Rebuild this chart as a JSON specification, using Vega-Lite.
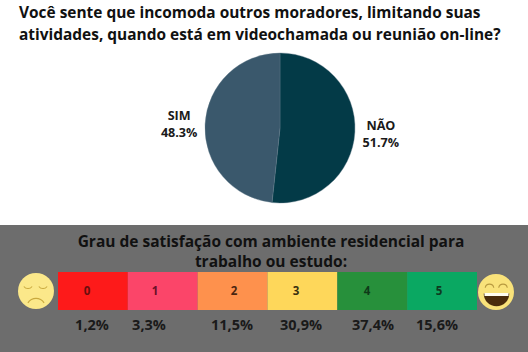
{"$schema":"https://vega.github.io/schema/vega-lite/v6.json","width":528,"height":352,"padding":0,"autosize":{"type":"fit","contains":"padding"},"background":"#ffffff","view":{"stroke":null},"config":{"text":{"font":"Open Sans"}},
"datasets":{"pie":[{"resposta":"NÃO","valor":51.7,"rotulo":"NÃO\n51.7%"},{"resposta":"SIM","valor":48.3,"rotulo":"SIM\n48.3%"}],
"grau":[{"grau":0,"pct":"1,2%","share":1.2},{"grau":1,"pct":"3,3%","share":3.3},{"grau":2,"pct":"11,5%","share":11.5},{"grau":3,"pct":"30,9%","share":30.9},{"grau":4,"pct":"37,4%","share":37.4},{"grau":5,"pct":"15,6%","share":15.6}]},
"layer":[
{"data":{"values":[{"t":"Você sente que incomoda outros moradores, limitando suas\natividades, quando está em videochamada ou reunião on-line?"}]},"mark":{"type":"text","align":"left","baseline":"middle","lineBreak":"\n","fontWeight":"bold","fontSize":15.45,"lineHeight":21.5,"color":"#111111","font":"Open Sans"},"encoding":{"x":{"value":19},"y":{"value":13},"text":{"field":"t"}}},
{"data":{"name":"pie"},"mark":{"type":"arc","outerRadius":75,"stroke":"#5f7888","strokeWidth":0.4},"encoding":{"x":{"value":280},"y":{"value":128},"theta":{"field":"valor","type":"quantitative","stack":true,"scale":{"domain":[0,100]}},"order":{"field":"resposta"},"color":{"field":"resposta","legend":null,"scale":{"domain":["NÃO","SIM"],"range":["#033a47","#3a586c"]}}}},
{"data":{"name":"pie"},"mark":{"type":"text","radius":101,"lineBreak":"\n","fontWeight":"bold","fontSize":12.6,"lineHeight":17,"color":"#1a1a1a","font":"Open Sans"},"encoding":{"x":{"value":280},"y":{"value":121},"theta":{"field":"valor","type":"quantitative","stack":true,"scale":{"domain":[0,100]}},"order":{"field":"resposta"},"text":{"field":"rotulo"}}},
{"data":{"values":[{}]},"mark":{"type":"rect","color":"#6d6d6d"},"encoding":{"x":{"value":0},"x2":{"value":528},"y":{"value":225},"y2":{"value":352}}},
{"data":{"values":[{"t":"Grau de satisfação com ambiente residencial para\ntrabalho ou estudo:"}]},"mark":{"type":"text","align":"center","baseline":"middle","lineBreak":"\n","fontWeight":"bold","fontSize":15.5,"lineHeight":20.5,"color":"#111111","font":"Open Sans"},"encoding":{"x":{"value":271},"y":{"value":241.5},"text":{"field":"t"}}},
{"data":{"name":"grau"},"mark":{"type":"bar"},"encoding":{"x":{"field":"grau","type":"nominal","axis":null,"scale":{"type":"band","domain":[0,1,2,3,4,5],"range":[58,477],"paddingInner":0,"paddingOuter":0}},"y":{"value":272},"y2":{"value":310},"color":{"field":"grau","type":"nominal","legend":null,"scale":{"domain":[0,1,2,3,4,5],"range":["#fd1a1a","#fb4569","#fe914d","#fed75a","#27903b","#0aa862"]}}}},
{"data":{"name":"grau"},"mark":{"type":"text","fontWeight":"bold","fontSize":11.5,"font":"Open Sans","baseline":"middle"},"encoding":{"x":{"field":"grau","type":"quantitative","axis":null,"scale":{"domain":[0,1,2,3,4,5],"range":[87,155,234,296,367,439],"zero":false,"nice":false}},"y":{"value":292},"text":{"field":"grau","type":"nominal"},"color":{"field":"grau","type":"nominal","legend":null,"scale":{"domain":[0,1,2,3,4,5],"range":["#6a0e0e","#6a1028","#4a2510","#3a3010","#0e3a18","#0e3a20"]}}}},
{"data":{"name":"grau"},"mark":{"type":"text","fontWeight":"bold","fontSize":14.5,"color":"#1a1a1a","font":"Open Sans","baseline":"middle"},"encoding":{"x":{"field":"grau","type":"quantitative","axis":null,"scale":{"domain":[0,1,2,3,4,5],"range":[92,149,232,301,373,437],"zero":false,"nice":false}},"y":{"value":326},"text":{"field":"pct"}}},
{"data":{"values":[{"f":"triste"}]},"mark":{"type":"arc","outerRadius":18,"theta":0,"theta2":6.2832,"color":"#fbe88a"},"encoding":{"x":{"value":36},"y":{"value":291}}},
{"data":{"values":[{"f":"olho"}]},"mark":{"type":"arc","innerRadius":4.6,"outerRadius":5.6,"theta":2.2,"theta2":4.1,"color":"#c9a93e"},"encoding":{"x":{"value":28},"y":{"value":283.5}}},
{"data":{"values":[{"f":"olho"}]},"mark":{"type":"arc","innerRadius":4.6,"outerRadius":5.6,"theta":2.2,"theta2":4.1,"color":"#c9a93e"},"encoding":{"x":{"value":43},"y":{"value":283.5}}},
{"data":{"values":[{"f":"boca"}]},"mark":{"type":"arc","innerRadius":9,"outerRadius":10.2,"theta":-1,"theta2":1,"color":"#c9a93e"},"encoding":{"x":{"value":36},"y":{"value":308}}},
{"data":{"values":[{"f":"feliz"}]},"mark":{"type":"arc","outerRadius":18,"theta":0,"theta2":6.2832,"color":"#f9e27a"},"encoding":{"x":{"value":496},"y":{"value":292}}},
{"data":{"values":[{"f":"boca"}]},"mark":{"type":"arc","outerRadius":12.8,"theta":1.5708,"theta2":4.7124,"color":"#4a2c0c"},"encoding":{"x":{"value":496.5},"y":{"value":293.5}}},
{"data":{"values":[{"f":"dentes"}]},"mark":{"type":"rect","color":"#fffdf0"},"encoding":{"x":{"value":484.5},"x2":{"value":508.5},"y":{"value":293},"y2":{"value":296}}},
{"data":{"values":[{"f":"olho"}]},"mark":{"type":"arc","innerRadius":3.8,"outerRadius":4.9,"theta":-1.4,"theta2":1.4,"color":"#b89a40"},"encoding":{"x":{"value":489.5},"y":{"value":288.5}}},
{"data":{"values":[{"f":"olho"}]},"mark":{"type":"arc","innerRadius":3.8,"outerRadius":4.9,"theta":-1.4,"theta2":1.4,"color":"#b89a40"},"encoding":{"x":{"value":503},"y":{"value":288.5}}}
],"resolve":{"scale":{"x":"independent","color":"independent","theta":"independent"}}}
